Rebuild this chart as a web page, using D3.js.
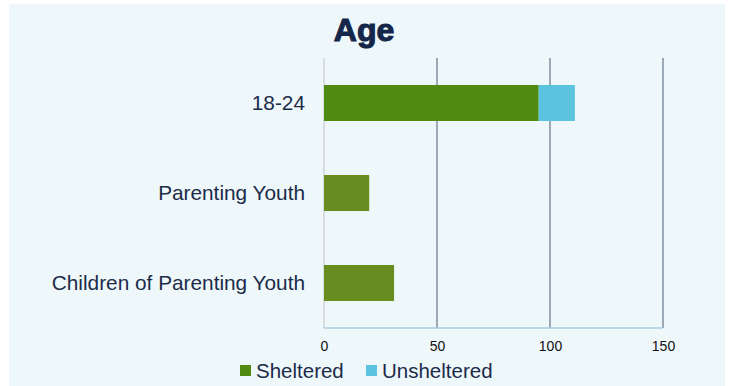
<!DOCTYPE html>
<html><head><meta charset="utf-8">
<script src="https://cdn.jsdelivr.net/npm/d3@7"></script>
<style>body{margin:0;background:#fff}svg{display:block}</style>
</head><body>
<svg id="c" width="730" height="386"></svg>
<script>
const categories = ["18-24", "Parenting Youth", "Children of Parenting Youth"];
const sheltered = [95, 20, 31];
const unsheltered = [16, 0, 0];
const seriesNames = ["Sheltered", "Unsheltered"];
const xTicks = [0, 50, 100, 150];
const title = "Age";

const shelteredColors = ["#518a10", "#678c1f", "#678c1f"];
const unshelteredColor = "#5bc3dd";
const textColor = "#1c2b4a";

const svg = d3.select("#c");
svg.append("rect").attr("x", 9).attr("y", 4).attr("width", 716).attr("height", 382).attr("fill", "#eef7f9");

const x = d3.scaleLinear().domain([0, 150]).range([324, 663]);
const y = d3.scaleBand().domain(categories).range([58, 328]).paddingInner(0.6).paddingOuter(0.3);

svg.append("text").attr("x", 364).attr("y", 41).attr("text-anchor", "middle")
  .attr("font-family", "Liberation Sans, Arial, sans-serif").attr("font-weight", "bold")
  .attr("font-size", 32).attr("fill", "#14264a").attr("stroke", "#14264a").attr("stroke-width", 1.1).text(title);

// gridlines
const g = svg.append("g");
g.selectAll("line.grid").data(xTicks).join("line")
  .attr("x1", d => x(d)).attr("x2", d => x(d)).attr("y1", 58).attr("y2", 328)
  .attr("stroke", d => d === 0 ? "#d9dde0" : "#6f8091").attr("stroke-width", d => d === 0 ? 2 : 1.3);

// bars
const bars = svg.append("g");
bars.selectAll("rect.s").data(categories).join("rect")
  .attr("x", x(0)).attr("y", d => y(d)).attr("height", y.bandwidth())
  .attr("width", (d, i) => x(sheltered[i]) - x(0)).attr("fill", (d, i) => shelteredColors[i]);
bars.selectAll("rect.u").data(categories).join("rect")
  .attr("x", (d, i) => x(sheltered[i])).attr("y", d => y(d)).attr("height", y.bandwidth())
  .attr("width", (d, i) => x(sheltered[i] + unsheltered[i]) - x(sheltered[i])).attr("fill", unshelteredColor);

// bottom axis line
svg.append("line").attr("x1", x(0)).attr("x2", x(150)).attr("y1", 328).attr("y2", 328)
  .attr("stroke", "#a9cbe0").attr("stroke-width", 1.5);

// x tick labels
const xAxis = d3.axisBottom(x).tickValues(xTicks).tickSize(0).tickPadding(13);
const ax = svg.append("g").attr("transform", "translate(0,328)").call(xAxis);
ax.select(".domain").remove();
ax.selectAll("text").attr("font-family", "Liberation Sans, Arial, sans-serif").attr("font-size", 14).attr("fill", "#111");

// y labels
const yAxis = d3.axisLeft(y).tickSize(0).tickPadding(19);
const ay = svg.append("g").attr("transform", `translate(${x(0)},0)`).call(yAxis);
ay.select(".domain").remove();
ay.selectAll("text").attr("font-family", "Liberation Sans, Arial, sans-serif").attr("font-size", 20.8).attr("fill", textColor);

// legend
const legendX = [240, 366];
const lg = svg.append("g");
seriesNames.forEach((n, i) => {
  lg.append("rect").attr("x", legendX[i]).attr("y", 365).attr("width", 11).attr("height", 11)
    .attr("fill", i === 0 ? shelteredColors[0] : unshelteredColor);
  lg.append("text").attr("x", legendX[i] + 16).attr("y", 378).attr("font-family", "Liberation Sans, Arial, sans-serif")
    .attr("font-size", 20.5).attr("fill", textColor).text(n);
});
</script>
</body></html>
